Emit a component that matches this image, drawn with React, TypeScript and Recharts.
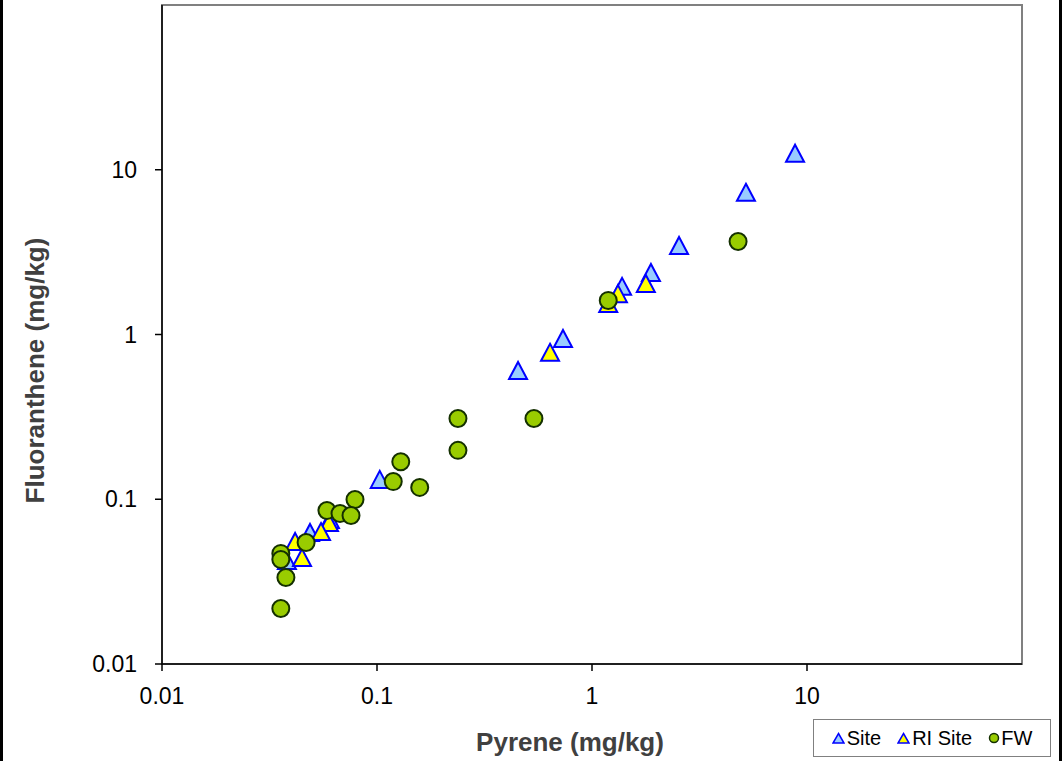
import { ScatterChart, Scatter, XAxis, YAxis, ReferenceArea } from 'recharts';

// pyrene (x) vs fluoranthene (y), mg/kg
const siteX = [8.8, 5.2, 2.54, 1.88, 1.38, 0.733, 0.453, 0.103, 0.0604, 0.0488, 0.0381];
const siteY = [12.6, 7.3, 3.47, 2.38, 1.96, 0.946, 0.605, 0.132, 0.0754, 0.0629, 0.0425];

const riX = [1.78, 1.32, 1.19, 0.638, 0.0598, 0.0549, 0.0416, 0.0448];
const riY = [2.04, 1.77, 1.54, 0.78, 0.0723, 0.0637, 0.0554, 0.0443];

const fwX = [4.78, 1.19, 0.537, 0.238, 0.238, 0.129, 0.119, 0.158, 0.079, 0.0585, 0.0673, 0.0757, 0.0468, 0.0357, 0.0357, 0.0377, 0.0357];
const fwY = [3.67, 1.61, 0.309, 0.309, 0.198, 0.169, 0.128, 0.118, 0.0997, 0.0855, 0.0819, 0.0797, 0.0546, 0.0469, 0.0431, 0.0335, 0.0217];

const ticks = [0.01, 0.1, 1, 10];
const seriesNames = ['Site', 'RI Site', 'FW'];

const toPoints = (xs: number[], ys: number[]) => xs.map((x, i) => ({ x, y: ys[i] }));

const FONT = '"Liberation Sans", Arial, sans-serif';

const Tri = (fill: string) => (props: any) => {
  const { cx, cy } = props;
  if (cx == null || cy == null) return <g />;
  return (
    <polygon
      points={`${cx},${cy - 8.5} ${cx + 9},${cy + 8.5} ${cx - 9},${cy + 8.5}`}
      fill={fill}
      stroke="#0000FF"
      strokeWidth={2}
      strokeLinejoin="miter"
    />
  );
};

const Dot = (props: any) => {
  const { cx, cy } = props;
  if (cx == null || cy == null) return <g />;
  return <circle cx={cx} cy={cy} r={8.5} fill="#99CC00" stroke="#143000" strokeWidth={2} />;
};

function LegendBox() {
  const tri = (fill: string) => (
    <svg width={13} height={12} style={{ marginRight: 2 }}>
      <polygon points="6.5,1.5 12,11 1,11" fill={fill} stroke="#0000FF" strokeWidth={1.5} />
    </svg>
  );
  const item = { display: 'flex', alignItems: 'center', marginRight: 16 };
  return (
    <div
      style={{
        position: 'absolute', left: 813, top: 719, width: 236, height: 36,
        border: '1px solid #808080', background: '#fff', display: 'flex',
        alignItems: 'center', justifyContent: 'center', fontFamily: FONT, fontSize: 20, color: '#000',
      }}
    >
      <div style={item}>{tri('#99CCFF')}{seriesNames[0]}</div>
      <div style={item}>{tri('#FFFF00')}{seriesNames[1]}</div>
      <div style={{ display: 'flex', alignItems: 'center' }}>
        <svg width={12} height={12} style={{ marginRight: 1 }}>
          <circle cx={6} cy={6} r={4.5} fill="#99CC00" stroke="#143000" strokeWidth={1.5} />
        </svg>
        {seriesNames[2]}
      </div>
    </div>
  );
}

export default function App() {
  return (
    <div
      style={{
        position: 'absolute', left: 0, top: 0, width: 1062, height: 761, background: '#fff',
        boxSizing: 'border-box', borderLeft: '3px solid #000', borderRight: '3px solid #000',
      }}
    >
      <div style={{ position: 'absolute', left: -3, top: 0 }}>
        <ScatterChart width={1062} height={761} margin={{ top: 5, right: 40, bottom: 37, left: 62 }}>
          <ReferenceArea x1={0.01} x2={100} y1={0.01} y2={100} fill="none" stroke="#808080" strokeWidth={2} ifOverflow="visible" />
          <XAxis
            type="number"
            dataKey="x"
            scale="log"
            domain={[0.01, 100]}
            ticks={ticks}
            allowDataOverflow
            height={60}
            tickSize={7}
            tickMargin={17}
            stroke="#000"
            strokeWidth={1.5}
            tick={{ fill: '#000', fontSize: 23, fontFamily: FONT }}
            tickFormatter={(v: number) => String(v)}
            label={{ value: 'Pyrene (mg/kg)', position: 'center', dx: -22, dy: 48, style: { fontSize: 26, fontWeight: 'bold', fill: '#404040', fontFamily: FONT } }}
          />
          <YAxis
            type="number"
            dataKey="y"
            scale="log"
            domain={[0.01, 100]}
            ticks={ticks}
            allowDataOverflow
            width={100}
            tickSize={7}
            tickMargin={18}
            stroke="#000"
            strokeWidth={1.5}
            tick={{ fill: '#000', fontSize: 23, fontFamily: FONT }}
            tickFormatter={(v: number) => String(v)}
            label={{ value: 'Fluoranthene (mg/kg)', angle: -90, position: 'center', dx: -77, dy: 36, style: { fontSize: 26, fontWeight: 'bold', fill: '#404040', fontFamily: FONT, textAnchor: 'middle' } }}
          />
          <Scatter name="Site" data={toPoints(siteX, siteY)} shape={Tri('#99CCFF')} isAnimationActive={false} />
          <Scatter name="RI Site" data={toPoints(riX, riY)} shape={Tri('#FFFF00')} isAnimationActive={false} />
          <Scatter name="FW" data={toPoints(fwX, fwY)} shape={Dot} isAnimationActive={false} />
        </ScatterChart>
      </div>
      <div style={{ position: 'absolute', left: -3, top: 0 }}>
        <LegendBox />
      </div>
    </div>
  );
}
